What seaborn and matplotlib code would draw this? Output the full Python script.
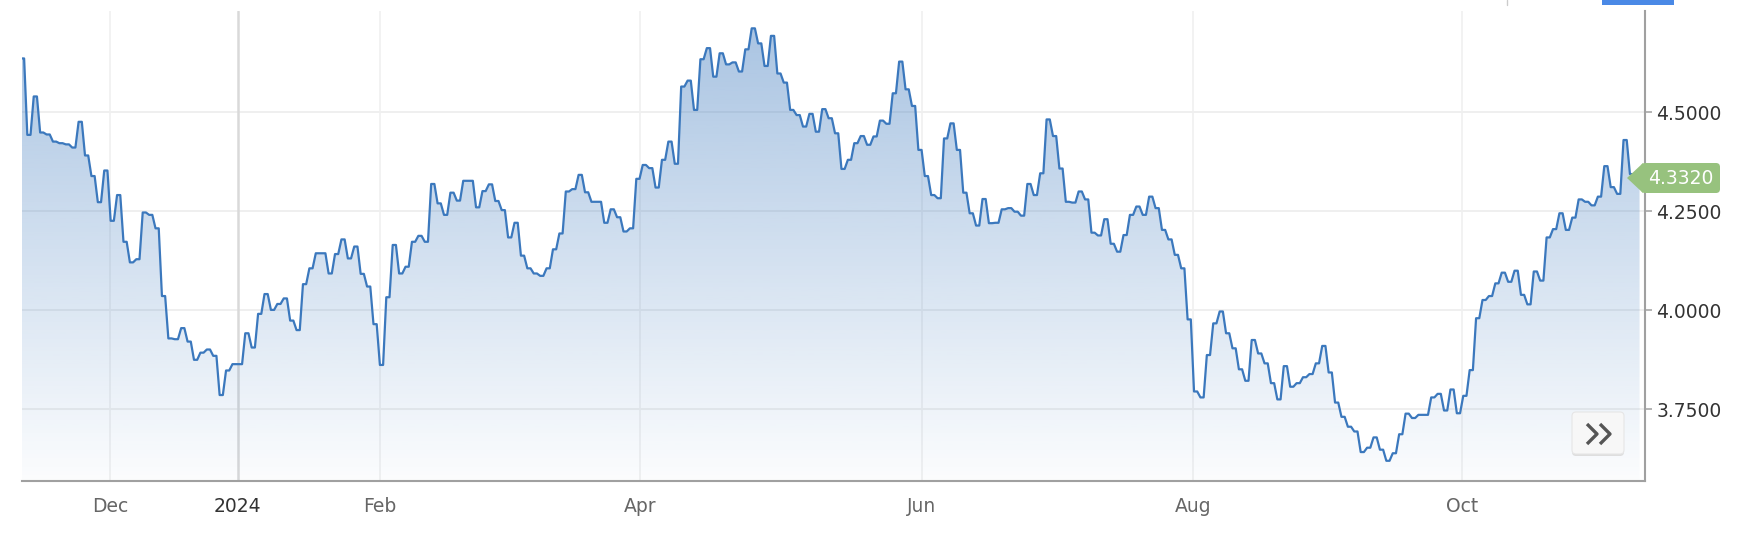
import numpy as np
import matplotlib
matplotlib.use("Agg")
import matplotlib.pyplot as plt
import seaborn as sns
from matplotlib.patches import FancyBboxPatch, Polygon, Rectangle
from matplotlib.lines import Line2D
from matplotlib.transforms import Affine2D

# daily yield, one value per trading day (Nov 2023 - Nov 2024)
yields = [
    4.636, 4.443, 4.540, 4.449, 4.444, 4.426, 4.422, 4.419, 4.411, 4.476,
    4.391, 4.339, 4.273, 4.353, 4.226, 4.291, 4.173, 4.121, 4.129, 4.247,
    4.241, 4.207, 4.036, 3.929, 3.927, 3.955, 3.921, 3.875, 3.893, 3.901,
    3.885, 3.786, 3.848, 3.864, 3.864, 3.942, 3.906, 3.991, 4.041, 4.001,
    4.016, 4.030, 3.974, 3.950, 4.066, 4.106, 4.144, 4.144, 4.093, 4.142,
    4.179, 4.131, 4.161, 4.092, 4.060, 3.965, 3.862, 4.033, 4.165, 4.093,
    4.110, 4.173, 4.188, 4.173, 4.319, 4.270, 4.241, 4.297, 4.277, 4.327,
    4.327, 4.260, 4.301, 4.318, 4.276, 4.253, 4.184, 4.221, 4.138, 4.106,
    4.093, 4.087, 4.106, 4.154, 4.194, 4.300, 4.306, 4.342, 4.298, 4.274,
    4.274, 4.221, 4.255, 4.235, 4.199, 4.207, 4.332, 4.367, 4.359, 4.310,
    4.380, 4.426, 4.370, 4.565, 4.580, 4.506, 4.634, 4.662, 4.590, 4.649,
    4.621, 4.626, 4.603, 4.659, 4.712, 4.674, 4.617, 4.693, 4.598, 4.575,
    4.506, 4.493, 4.464, 4.496, 4.451, 4.508, 4.485, 4.447, 4.357, 4.380,
    4.422, 4.440, 4.418, 4.439, 4.479, 4.471, 4.548, 4.628, 4.558, 4.516,
    4.405, 4.339, 4.291, 4.283, 4.434, 4.472, 4.405, 4.297, 4.245, 4.214,
    4.281, 4.220, 4.221, 4.255, 4.258, 4.249, 4.239, 4.319, 4.291, 4.346,
    4.482, 4.440, 4.358, 4.274, 4.272, 4.300, 4.280, 4.196, 4.189, 4.230,
    4.168, 4.148, 4.190, 4.241, 4.262, 4.241, 4.287, 4.258, 4.203, 4.179,
    4.140, 4.106, 3.977, 3.795, 3.780, 3.887, 3.967, 3.997, 3.942, 3.904,
    3.851, 3.822, 3.925, 3.891, 3.866, 3.816, 3.775, 3.859, 3.807, 3.816,
    3.831, 3.839, 3.866, 3.910, 3.843, 3.767, 3.731, 3.706, 3.694, 3.642,
    3.653, 3.679, 3.648, 3.620, 3.639, 3.687, 3.739, 3.728, 3.736, 3.736,
    3.780, 3.789, 3.747, 3.800, 3.740, 3.784, 3.849, 3.980, 4.026, 4.036,
    4.068, 4.095, 4.072, 4.100, 4.039, 4.015, 4.098, 4.075, 4.184, 4.205,
    4.245, 4.203, 4.234, 4.280, 4.274, 4.265, 4.287, 4.364, 4.311, 4.294,
    4.430, 4.344, 4.332,
]
month_labels = ["Dec", "2024", "Feb", "Apr", "Jun", "Aug", "Oct"]
month_pos = [13.7, 33.6, 55.8, 96.3, 140.3, 182.6, 224.5]
y_ticks = [3.75, 4.0, 4.25, 4.5]
last_value = yields[-1]

sns.set_style("white")
plt.rcParams["font.family"] = ["DejaVu Sans"]

W, H = 1740, 536
fig = plt.figure(figsize=(W / 100, H / 100), dpi=100)
fig.patch.set_facecolor("white")
ax = fig.add_axes([22 / W, 1 - 480.5 / H, (1645 - 22) / W, (480.5 - 11) / H])

xmin, xmax = -0.08, 253.1
ymin, ymax = 3.5702, 4.7558

# each day drawn as a short flat segment
x_idx = np.arange(len(yields))
step_x = np.column_stack([x_idx - 0.25, x_idx + 0.25]).ravel()
step_y = np.repeat(yields, 2)

# grid
for v in y_ticks:
    ax.axhline(v, color="#ebebeb", lw=1.1, zorder=0)
for lab, p in zip(month_labels, month_pos):
    if lab == "2024":
        ax.axvline(p, color="#d9d9d9", lw=1.8, zorder=0)
    else:
        ax.axvline(p, color="#efefef", lw=1.1, zorder=0)

# gradient area under the line
fill = ax.fill_between(step_x, step_y, ymin, facecolor="none", edgecolor="none")
grad = np.zeros((256, 1, 4))
grad[..., :3] = np.array([59, 120, 189]) / 255
grad[:, 0, 3] = np.linspace(0.45, 0.02, 256)
img = ax.imshow(grad, extent=[xmin, xmax, ymin, ymax], aspect="auto",
                origin="upper", zorder=1, interpolation="bilinear")
img.set_clip_path(fill.get_paths()[0], transform=ax.transData)

sns.lineplot(x=step_x, y=step_y, ax=ax, color="#3b78bd", lw=1.6,
             estimator=None, sort=False, zorder=3)

ax.set_xlim(xmin, xmax)
ax.set_ylim(ymin, ymax)

# axes
ax.yaxis.tick_right()
ax.set_yticks(y_ticks)
ax.set_yticklabels([f"{v:.4f}" for v in y_ticks])
ax.set_xticks(month_pos)
ax.set_xticklabels(month_labels)
ax.tick_params(axis="y", direction="out", length=5, width=1.1, color="#a0a0a0",
               labelsize=13.5, labelcolor="#333333", pad=3)
ax.tick_params(axis="x", direction="out", length=6, width=1.1, color="#a0a0a0",
               labelsize=13.5, labelcolor="#666666", pad=6)
for t in ax.get_xticklabels():
    if t.get_text() == "2024":
        t.set_color("#333333")
for s in ["top", "left"]:
    ax.spines[s].set_visible(False)
for s in ["bottom", "right"]:
    ax.spines[s].set_color("#a0a0a0")
    ax.spines[s].set_linewidth(1.5)
ax.set_xlabel("")
ax.set_ylabel("")
ax.set_facecolor("none")

# overlay pieces, in pixel coords from top-left
px = Affine2D().scale(1, -1).translate(0, H).scale(1 / 100) + fig.dpi_scale_trans

# last value tag
green = "#97c27e"
fig.add_artist(Polygon([(1627, 178), (1643, 163), (1643, 193)], closed=True,
                       facecolor=green, edgecolor="none", transform=px, zorder=5))
fig.add_artist(FancyBboxPatch((1641, 163), 79, 30, boxstyle="round,pad=0,rounding_size=4",
                              facecolor=green, edgecolor="none", transform=px, zorder=5))
fig.text(1681 / W, 1 - 178 / H, f"{last_value:.4f}", color="white", fontsize=13.5,
         ha="center", va="center", zorder=6)

# scroll button
fig.add_artist(FancyBboxPatch((1572, 414), 52, 42, boxstyle="round,pad=0,rounding_size=4",
                              facecolor="#dedede", edgecolor="none", transform=px, zorder=4))
fig.add_artist(FancyBboxPatch((1572, 412), 52, 42, boxstyle="round,pad=0,rounding_size=4",
                              facecolor="#f7f7f7", edgecolor="#e6e6e6", lw=0.8,
                              transform=px, zorder=5))
for dx in (0, 13):
    fig.add_artist(Line2D([1587 + dx, 1597 + dx, 1587 + dx], [424, 434, 444],
                          color="#555555", lw=2.4, solid_capstyle="butt",
                          transform=px, zorder=6))

# cropped bits of the page header
fig.add_artist(Rectangle((1602, 0), 72, 5, facecolor="#4a89e6", edgecolor="none",
                         transform=px, zorder=5))
fig.add_artist(Line2D([1507, 1507], [0, 5], color="#cccccc", lw=1, transform=px, zorder=5))

fig.savefig("out.png", dpi=100, facecolor="white")
